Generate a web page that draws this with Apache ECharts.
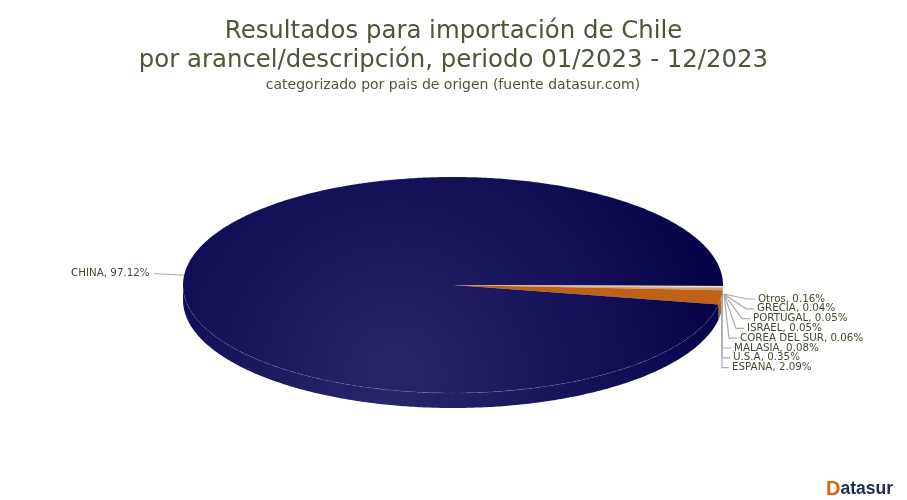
<!DOCTYPE html>
<html><head><meta charset="utf-8">
<style>html,body{margin:0;padding:0;background:#fff}#c{width:907px;height:500px}</style>
<script src="https://cdn.jsdelivr.net/npm/echarts@6/dist/echarts.min.js"></script>
</head><body><div id="c"></div>
<script>
const categories = ['Otros','GRECIA','PORTUGAL','ISRAEL','COREA DEL SUR','MALASIA','U.S.A','ESPANA','CHINA'];
const values = [0.16,0.04,0.05,0.05,0.06,0.08,0.35,2.09,97.12];
const colors = ['#14124f','#8f93b8','#f4f4f4','#eee8e0','#c9b8a0','#d99a5c','#d0a070','#bf6116',null];
const titleLines = ['Resultados para importación de Chile','por arancel/descripción, periodo 01/2023 - 12/2023'];
const subtitle = 'categorizado por pais de origen (fuente datasur.com)';

const C = {x:453, y:285, rx:270, ry:108, depth:15};
const total = values.reduce((a,b)=>a+b,0);
const spans = []; let acc = 0;
values.forEach(v=>{const a0=acc/total*Math.PI*2; acc+=v; spans.push([a0,acc/total*Math.PI*2]);});
const pt=(a,dy)=>[C.x+C.rx*Math.cos(a),C.y+C.ry*Math.sin(a)+(dy||0)];
function arc(a0,a1,dy){const n=Math.max(2,Math.ceil((a1-a0)/0.01));const p=[];for(let i=0;i<=n;i++)p.push(pt(a0+(a1-a0)*i/n,dy));return p;}
const fillTop={type:'radial',x:395,y:375,r:330,global:true,colorStops:[{offset:0,color:'#29256a'},{offset:0.55,color:'#17135a'},{offset:1,color:'#06034a'}]};
const fillSide={type:'radial',x:390,y:385,r:335,global:true,colorStops:[{offset:0,color:'#2a266c'},{offset:0.55,color:'#17135a'},{offset:1,color:'#07044b'}]};

// label column: horizontal start of each label and row pitch are layout only
const labelX=[758,757,753,747,740,734,733,732];
const labelY0=299, labelPitch=9.8;
const hub=[724,294];

function sideItem(params){
  const i=params.dataIndex,[a0,a1]=spans[i];
  const parts=[];
  const s=Math.max(a0,0),e=Math.min(a1,Math.PI);
  if(e>s){
    const top=arc(s,e,0),bot=arc(s,e,C.depth).reverse();
    parts.push({type:'polygon',shape:{points:top.concat(bot)},style:{fill:colors[i]||fillSide}});
  }
  return {type:'group',children:parts};
}
function topItem(params){
  const i=params.dataIndex,[a0,a1]=spans[i];
  const pts=[[C.x,C.y]].concat(arc(a0,a1,0));
  const kids=[{type:'polygon',shape:{points:pts},style:{fill:colors[i]||fillTop}}];
  if(!colors[i]) kids.push({type:'polyline',shape:{points:arc(a0,a1,0)},style:{fill:null,stroke:'rgba(190,190,225,0.22)',lineWidth:0.6,lineDash:[6,3]}});
  return {type:'group',children:kids};
}
function labelItem(params){
  const i=params.dataIndex,[a0,a1]=spans[i];
  const txt=categories[i]+', '+values[i].toFixed(2)+'%';
  const st={fill:'#3f4d2e',font:'10.3px "DejaVu Sans"',textVerticalAlign:'middle'};
  const line={fill:null,stroke:'#aaaaaa',lineWidth:1.2};
  if(i===categories.length-1){
    const m=pt((a0+a1)/2);
    return {type:'group',children:[
      {type:'polyline',shape:{points:[m,[m[0]-30,m[1]-1.6]]},style:Object.assign({},line,{lineWidth:1})},
      {type:'text',style:Object.assign({text:txt,x:m[0]-34.5,y:m[1]-1.6,textAlign:'right'},st)}]};
  }
  const y=labelY0+i*labelPitch,x=labelX[i];
  const s=i>=5?[722,296]:hub;
  return {type:'group',children:[
    {type:'polyline',shape:{points:[s,i>=5?[722,y]:[x-11,y],[x-3,y]]},style:line},
    {type:'text',style:Object.assign({text:txt,x:x,y:y,textAlign:'left'},st)}]};
}
const data=categories.map((c,i)=>({name:c,value:values[i]}));
const chart=echarts.init(document.getElementById('c'),null,{renderer:'canvas'});
chart.setOption({
  animation:false,
  backgroundColor:'#fff',
  title:[
    {text:titleLines.join('\n'),left:453.5,textAlign:'center',top:17,padding:0,textStyle:{fontFamily:'DejaVu Sans',fontSize:24.4,fontWeight:'normal',color:'#4a5738',lineHeight:29}},
    {text:subtitle,left:453,textAlign:'center',top:78,padding:0,textStyle:{fontFamily:'DejaVu Sans',fontSize:14,fontWeight:'normal',color:'#4a5738'}},
    {text:'{d|D}{r|atasur}',right:14,top:479,padding:0,textStyle:{rich:{d:{fontFamily:'Liberation Sans',fontSize:20,fontWeight:'bold',color:'#d9690f'},r:{fontFamily:'Liberation Sans',fontSize:17.5,fontWeight:'bold',color:'#1d2b52'}}}}
  ],
  series:[
    {type:'custom',coordinateSystem:'none',renderItem:sideItem,data,silent:true,z:1},
    {type:'custom',coordinateSystem:'none',renderItem:topItem,data,silent:true,z:2},
    {type:'custom',coordinateSystem:'none',renderItem:labelItem,data,silent:true,z:3}
  ]
});
</script></body></html>
